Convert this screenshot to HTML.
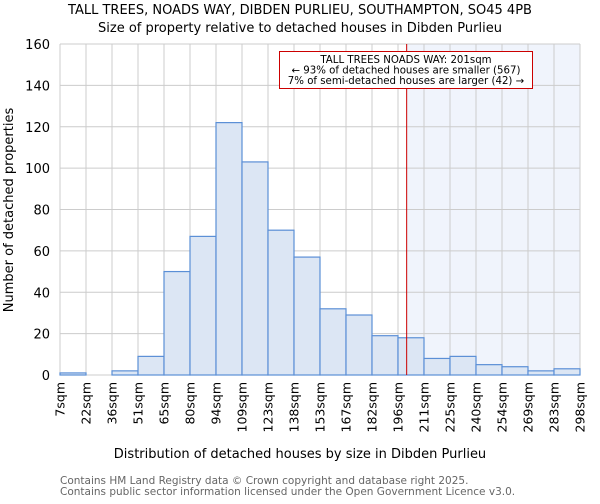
<!DOCTYPE html>
<html><head><meta charset="utf-8"><style>
body{margin:0;background:#fff;font-family:"DejaVu Sans","Liberation Sans",sans-serif;}
svg text{font-family:"DejaVu Sans","Liberation Sans",sans-serif;}
</style></head><body>
<svg id="chart" width="600" height="500" viewBox="0 0 600 500">
<text x="300" y="14" text-anchor="middle" font-size="13" fill="#000">TALL TREES, NOADS WAY, DIBDEN PURLIEU, SOUTHAMPTON, SO45 4PB</text>
<text x="300" y="32" text-anchor="middle" font-size="13" fill="#000">Size of property relative to detached houses in Dibden Purlieu</text>
<g id="plot"></g>
<text x="300" y="458" text-anchor="middle" font-size="13" fill="#000">Distribution of detached houses by size in Dibden Purlieu</text>
<text transform="translate(13,210) rotate(-90)" text-anchor="middle" font-size="13" fill="#000">Number of detached properties</text>
<text x="60" y="484" font-size="10.5" fill="#666">Contains HM Land Registry data © Crown copyright and database right 2025.</text>
<text x="60" y="495" font-size="10.5" fill="#666">Contains public sector information licensed under the Open Government Licence v3.0.</text>
</svg>
<script>
const categories=["7sqm","22sqm","36sqm","51sqm","65sqm","80sqm","94sqm","109sqm","123sqm","138sqm","153sqm","167sqm","182sqm","196sqm","211sqm","225sqm","240sqm","254sqm","269sqm","283sqm","298sqm"];
const counts=[1,0,2,9,50,67,122,103,70,57,32,29,19,18,8,9,5,4,2,3];
const yTicks=[0,20,40,60,80,100,120,140,160];
const markerValue=201;
const markerText=["TALL TREES NOADS WAY: 201sqm","← 93% of detached houses are smaller (567)","7% of semi-detached houses are larger (42) →"];
const NS="http://www.w3.org/2000/svg";
const L=60,R=580,T=44,B=375,yMax=160;
const bw=(R-L)/counts.length;
const y=v=>B-(v/yMax)*(B-T);
const xIdx=i=>L+i*bw;
const xVal=v=>{const n=categories.map(c=>parseFloat(c));for(let i=0;i<n.length-1;i++){if(v>=n[i]&&v<=n[i+1])return xIdx(i+(v-n[i])/(n[i+1]-n[i]));}return R;};
const g=document.getElementById('plot');
function mk(t,a){const e=document.createElementNS(NS,t);for(const k in a)e.setAttribute(k,a[k]);g.appendChild(e);return e;}
const mx=xVal(markerValue);
let e;
e=mk('rect',{x:mx,y:T,width:R-mx,height:B-T,fill:'#f0f4fc'});


for(let i=0;i<=counts.length;i++){e=mk('line',{x1:xIdx(i),x2:xIdx(i),y1:T,y2:B,stroke:'#ccc','stroke-width':1});

}
yTicks.forEach(t=>{e=mk('line',{x1:L,x2:R,y1:y(t),y2:y(t),stroke:'#ccc','stroke-width':1});


e=mk('text',{x:L-10,y:y(t)+5,'text-anchor':'end','font-size':13,fill:'#000'});e.textContent=t;

});
counts.forEach((c,i)=>{e=mk('rect',{x:xIdx(i),y:y(c),width:bw,height:B-y(c),fill:'#dce6f4',stroke:'#5b8fd6','stroke-width':1.2});

});
categories.forEach((c,i)=>{const x=xIdx(i);e=mk('text',{transform:`translate(${x+4.5},382) rotate(-90)`,'text-anchor':'end','font-size':12.5,fill:'#000'});e.textContent=c;

});
e=mk('line',{x1:mx,x2:mx,y1:T,y2:B,stroke:'#c00','stroke-width':1});


e=mk('rect',{x:279.5,y:51.5,width:253,height:37,fill:'#fff',stroke:'#c00','stroke-width':1});


markerText.forEach((t,i)=>{e=mk('text',{x:406,y:63+i*10.5,'text-anchor':'middle','font-size':10.2,fill:'#000'});e.textContent=t;

});
</script>
</body></html>
